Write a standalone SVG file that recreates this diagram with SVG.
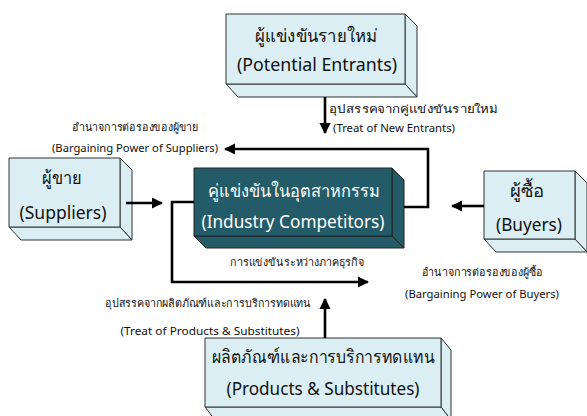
<svg xmlns="http://www.w3.org/2000/svg" width="587" height="416" viewBox="0 0 587 416">
<defs>
<marker id="ah" viewBox="0 0 10 10" refX="9" refY="5" markerWidth="4.4" markerHeight="4.4" orient="auto" markerUnits="strokeWidth">
<path d="M0,0 L10,5 L0,10 Z" fill="#000"/>
</marker>
<style>
.lb{fill:#DAEEF3;stroke:#333;stroke-width:1;stroke-linejoin:round}
.dk{fill:#235C68;stroke:#222;stroke-width:1;stroke-linejoin:round}
.t{font-family:"Noto Sans","DejaVu Sans",sans-serif;text-anchor:middle;fill:#111}
.nt{font-size:18px}
.wt{fill:#fff}
.lab{font-size:11px}
.c{fill:none;stroke:#000;stroke-width:2.6}
</style>
</defs>
<rect width="587" height="416" fill="#fff"/>
<g id="entrants">
<polygon class="lb" points="405,14 417,26 417,97 405,84"/>
<polygon class="lb" points="226,84 405,84 417,97 238,97"/>
<rect class="lb" x="226" y="14" width="179" height="70"/>
<text class="t nt" x="316" y="42" textLength="123" lengthAdjust="spacingAndGlyphs">ผู้แข่งขันรายใหม่</text>
<text class="t nt" x="317" y="71" textLength="160" lengthAdjust="spacingAndGlyphs">(Potential Entrants)</text>
</g>
<g id="suppliers">
<polygon class="lb" points="120,158 132,170 132,240 120,227"/>
<polygon class="lb" points="9,227 120,227 132,240 21,240"/>
<rect class="lb" x="9" y="158" width="111" height="69"/>
<text class="t nt" x="62" y="184" textLength="40" lengthAdjust="spacingAndGlyphs">ผู้ขาย</text>
<text class="t nt" x="63" y="219" textLength="87" lengthAdjust="spacingAndGlyphs">(Suppliers)</text>
</g>
<g id="competitors">
<polygon class="dk" points="392,168 404,180 404,248 392,236"/>
<polygon class="dk" points="194,236 392,236 404,248 206,248"/>
<rect class="dk" x="194" y="168" width="198" height="68"/>
<text class="t nt wt" x="294" y="197" textLength="172" lengthAdjust="spacingAndGlyphs">คู่แข่งขันในอุตสาหกรรม</text>
<text class="t nt wt" x="293" y="228" textLength="183" lengthAdjust="spacingAndGlyphs">(Industry Competitors)</text>
</g>
<g id="buyers">
<polygon class="lb" points="575,171 587,183 587,252 575,239"/>
<polygon class="lb" points="484,239 575,239 587,252 496,252"/>
<rect class="lb" x="484" y="171" width="91" height="68"/>
<text class="t nt" x="527" y="197" textLength="35" lengthAdjust="spacingAndGlyphs">ผู้ซื้อ</text>
<text class="t nt" x="529" y="231" textLength="66" lengthAdjust="spacingAndGlyphs">(Buyers)</text>
</g>
<g id="substitutes">
<polygon class="lb" points="441,338 451,350 451,420 441,407"/>
<polygon class="lb" points="205,407 441,407 451,420 215,420"/>
<rect class="lb" x="205" y="338" width="236" height="69"/>
<text class="t nt" x="323" y="363" textLength="223" lengthAdjust="spacingAndGlyphs">ผลิตภัณฑ์และการบริการทดแทน</text>
<text class="t nt" x="323" y="395" textLength="193" lengthAdjust="spacingAndGlyphs">(Products &amp; Substitutes)</text>
</g>
<g id="connectors">
<path class="c" d="M325,97 V133" marker-end="url(#ah)"/>
<path class="c" d="M404,207 H428 V149 H225" marker-end="url(#ah)"/>
<path class="c" d="M126,203 H162" marker-end="url(#ah)"/>
<path class="c" d="M484,206 H452" marker-end="url(#ah)"/>
<path class="c" d="M194,202 H172 V282 H368" marker-end="url(#ah)"/>
<path class="c" d="M325,338 V299" marker-end="url(#ah)"/>
</g>
<g id="labels">
<text class="t lab" x="135" y="131" textLength="126" lengthAdjust="spacingAndGlyphs">อำนาจการต่อรองของผู้ขาย</text>
<text class="t lab" x="135" y="152" textLength="166" lengthAdjust="spacingAndGlyphs">(Bargaining Power of Suppliers)</text>
<text class="t lab" x="413" y="113" textLength="168" lengthAdjust="spacingAndGlyphs">อุปสรรคจากคู่แข่งขันรายใหม่</text>
<text class="t lab" x="394" y="132" textLength="122" lengthAdjust="spacingAndGlyphs">(Treat of New Entrants)</text>
<text class="t lab" x="297" y="266" textLength="134" lengthAdjust="spacingAndGlyphs">การแข่งขันระหว่างภาคธุรกิจ</text>
<text class="t lab" x="482" y="276" textLength="121" lengthAdjust="spacingAndGlyphs">อำนาจการต่อรองของผู้ซื้อ</text>
<text class="t lab" x="482" y="298" textLength="154" lengthAdjust="spacingAndGlyphs">(Bargaining Power of Buyers)</text>
<text class="t lab" x="208" y="307" textLength="206" lengthAdjust="spacingAndGlyphs">อุปสรรคจากผลิตภัณฑ์และการบริการทดแทน</text>
<text class="t lab" x="210" y="335" textLength="179" lengthAdjust="spacingAndGlyphs">(Treat of Products &amp; Substitutes)</text>
</g>
</svg>
